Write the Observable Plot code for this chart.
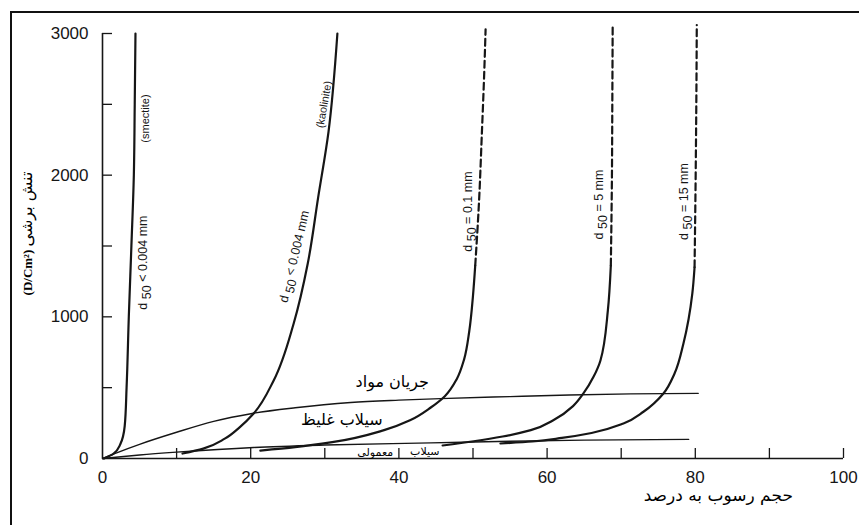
<!DOCTYPE html>
<html>
<head>
<meta charset="utf-8">
<script src="https://cdn.jsdelivr.net/npm/d3@7"></script>
<script src="https://cdn.jsdelivr.net/npm/@observablehq/plot@0.6"></script>
<style>
  html, body { margin: 0; padding: 0; background: #fff; }
  #wrap { position: relative; width: 859px; height: 525px; overflow: hidden; }
  #frame { position: absolute; left: 10px; top: 11px; width: 900px; height: 600px;
           border-left: 2px solid #111; border-top: 2px solid #111; pointer-events: none; }
</style>
</head>
<body>
<div id="wrap"><div id="frame"></div></div>
<script>
// ---- tick values ----
const xTicksMajor = [0, 20, 40, 60, 80, 100];
const xTicksMinor = [10, 20, 30, 40, 50, 60, 70, 80, 90, 100];
const yTicksMajor = [0, 1000, 2000, 3000];
const yTicksMinor = [500, 1000, 1500, 2000, 2500, 3000];

// ---- curves: [sediment volume %, shear stress D/cm2] ----
const smectite  = [[0.2,0],[1.5,35],[2.4,100],[3.0,230],[3.25,500],[3.55,1000],[3.9,1500],[4.23,2000],[4.35,2500],[4.45,3000]];
const kaolinite = [[10.8,35],[13.6,70],[16.5,140],[18.5,220],[20.4,318],[23.1,551],[25.8,953],[27.7,1376],[29.1,1842],[30.5,2306],[31.7,3000]];
const d01mm     = [[21.3,56],[26,80],[31,115],[38,200],[41.5,270],[44.3,360],[46.2,440],[47.8,560],[48.8,700],[49.5,900],[50.0,1150],[50.3,1362],[50.8,1800],[51.2,2300],[51.5,2700],[51.7,3030]];
const d5mm      = [[45.9,92],[50.1,122],[54,155],[57.8,200],[61,275],[63.5,370],[64.9,459],[66.3,580],[67.2,692],[68.2,1045],[68.6,1362],[68.75,2000],[68.8,2500],[68.85,3060]];
const d15mm     = [[53.7,106],[58,120],[62,145],[66,180],[70.3,247],[73,330],[75.7,459],[77.2,600],[78.4,812],[79.6,1165],[79.9,1350],[80.05,2000],[80.15,2600],[80.2,3060]];
const dashFrom  = 1350; // above this stress the coarse curves are dashed

// ---- flow-type boundary lines ----
const upperBoundary = [[0,0],[2,42],[5,100],[10,185],[15,262],[20.2,318],[26,358],[33.5,395],[40,412],[45.6,423],[55,437],[63,448],[71.3,456],[80.4,460]];
const lowerBoundary = [[0,0],[5,25],[10,45],[20.4,78],[30,95],[44.3,110],[55,122],[65,130],[79.1,135]];

// ---- labels ----
const curveLabels = [
  {text: "d 50 < 0.004 mm", x: 5.5,  y: 1383, rotate: -90},
  {text: "d 50 < 0.004 mm", x: 25.9, y: 1426, rotate: -76.5},
  {text: "d 50 = 0.1 mm",   x: 49.3, y: 1743, rotate: -90},
  {text: "d 50 = 5 mm",     x: 67.0, y: 1793, rotate: -90},
  {text: "d 50 = 15 mm",    x: 78.5, y: 1814, rotate: -90}
];
const clayLabels = [
  {text: "(smectite)",  x: 5.8,  y: 2400, rotate: -90},
  {text: "(kaolinite)", x: 29.9, y: 2499, rotate: -80}
];
const regionLabels = [
  {text: "جریان مواد", x: 39.1, y: 543, size: 16},
  {text: "سیلاب غلیظ", x: 32.3, y: 275, size: 16},
  {text: "سیلاب",      x: 43.5, y: 48,  size: 11},
  {text: "معمولی",     x: 36.8, y: 42,  size: 11}
];
const xTitle = {text: "حجم رسوب به درصد", x: 83.1, y: -261};
const yTitleUnit = "(D/Cm²)";
const yTitleName = "تنش برشی";
const yTitlePos = {x: -10.1, y: 1588};

// ---- build tables ----
function rows(name, pts) { return pts.map(([x, y]) => ({curve: name, x, y})); }
const fineRows = [...rows("smectite", smectite), ...rows("kaolinite", kaolinite)];
const coarseRows = [...rows("0.1", d01mm), ...rows("5", d5mm), ...rows("15", d15mm)];
const solidCoarse = coarseRows.filter(d => d.y <= dashFrom + 15);
const dashedCoarse = coarseRows.filter(d => d.y >= dashFrom - 15);
const boundaryRows = [...rows("upper", upperBoundary), ...rows("lower", lowerBoundary)];

const ink = "#161616";
const chart = Plot.plot({
  width: 859,
  height: 525,
  marginLeft: 102,
  marginRight: 16,
  marginTop: 33,
  marginBottom: 67,
  style: {background: "#fff", fontFamily: "'Liberation Sans', Arial, sans-serif", overflow: "visible"},
  x: {domain: [0, 100]},
  y: {domain: [0, 3000]},
  marks: [
    // axis lines
    Plot.ruleX([0], {y1: 0, y2: 3000, stroke: ink, strokeWidth: 1.6}),
    Plot.ruleY([0], {x1: 0, x2: 100, stroke: ink, strokeWidth: 1.6}),
    // inward ticks
    Plot.axisX(xTicksMinor, {anchor: "bottom", tickSize: 10, dy: -10, tickFormat: () => "", stroke: ink, strokeWidth: 1.3, label: null}),
    Plot.axisY(yTicksMinor, {anchor: "left", tickSize: 10, dx: 10, tickFormat: () => "", stroke: ink, strokeWidth: 1.3, label: null}),
    // tick labels
    Plot.axisX(xTicksMajor, {anchor: "bottom", tickSize: 0, tickPadding: 12, fontSize: 17, fill: ink, tickFormat: d => String(d), label: null}),
    Plot.axisY(yTicksMajor, {anchor: "left", tickSize: 0, tickPadding: 14, fontSize: 17, fill: ink, tickFormat: d => String(d), label: null}),
    // flow boundaries
    Plot.line(boundaryRows, {x: "x", y: "y", z: "curve", curve: "monotone-x", stroke: ink, strokeWidth: 1.4}),
    // grain-size curves
    Plot.line(fineRows, {x: "x", y: "y", z: "curve", curve: "monotone-y", stroke: ink, strokeWidth: 2.2}),
    Plot.line(solidCoarse, {x: "x", y: "y", z: "curve", curve: "monotone-y", stroke: ink, strokeWidth: 2.2}),
    Plot.line(dashedCoarse, {x: "x", y: "y", z: "curve", curve: "monotone-y", stroke: ink, strokeWidth: 2.2, strokeDasharray: "7,4"}),
    // labels
    Plot.text(curveLabels, {x: "x", y: "y", text: "text", rotate: "rotate", fontSize: 12.5, fill: ink, className: "d50lab"}),
    Plot.text(clayLabels, {x: "x", y: "y", text: "text", rotate: "rotate", fontSize: 11, fill: ink}),
    Plot.text(regionLabels, {x: "x", y: "y", text: "text", fontSize: "size", fill: "#000", fontFamily: "'DejaVu Sans', sans-serif"}),
    Plot.text([xTitle], {x: "x", y: "y", text: "text", fontSize: 17, fill: "#000", fontFamily: "'DejaVu Sans', sans-serif"}),
    Plot.text([yTitlePos], {x: "x", y: "y", text: () => yTitleUnit + " " + yTitleName, rotate: -90, fontSize: 13, fill: "#000", className: "ytitle"})
  ]
});

// subscript "50" in d50 labels
d3.select(chart).selectAll(".d50lab text").each(function() {
  const s = this.textContent;
  const m = s.match(/^d (50)(.*)$/);
  if (!m) return;
  const t = d3.select(this);
  t.text(null);
  t.append("tspan").text("d ");
  t.append("tspan").attr("dy", "0.3em").text(m[1]);
  t.append("tspan").attr("dy", "-0.3em").text(m[2]);
});
// y title: bold serif unit + Arabic name
d3.select(chart).selectAll(".ytitle text").each(function() {
  const t = d3.select(this);
  t.text(null);
  t.append("tspan").attr("font-family", "'Liberation Serif', serif").attr("font-weight", "bold").attr("font-size", 13).text(yTitleUnit + " ");
  t.append("tspan").attr("font-family", "'DejaVu Sans', sans-serif").attr("font-size", 16).text(yTitleName);
});

document.getElementById("wrap").prepend(chart);
</script>
</body>
</html>
